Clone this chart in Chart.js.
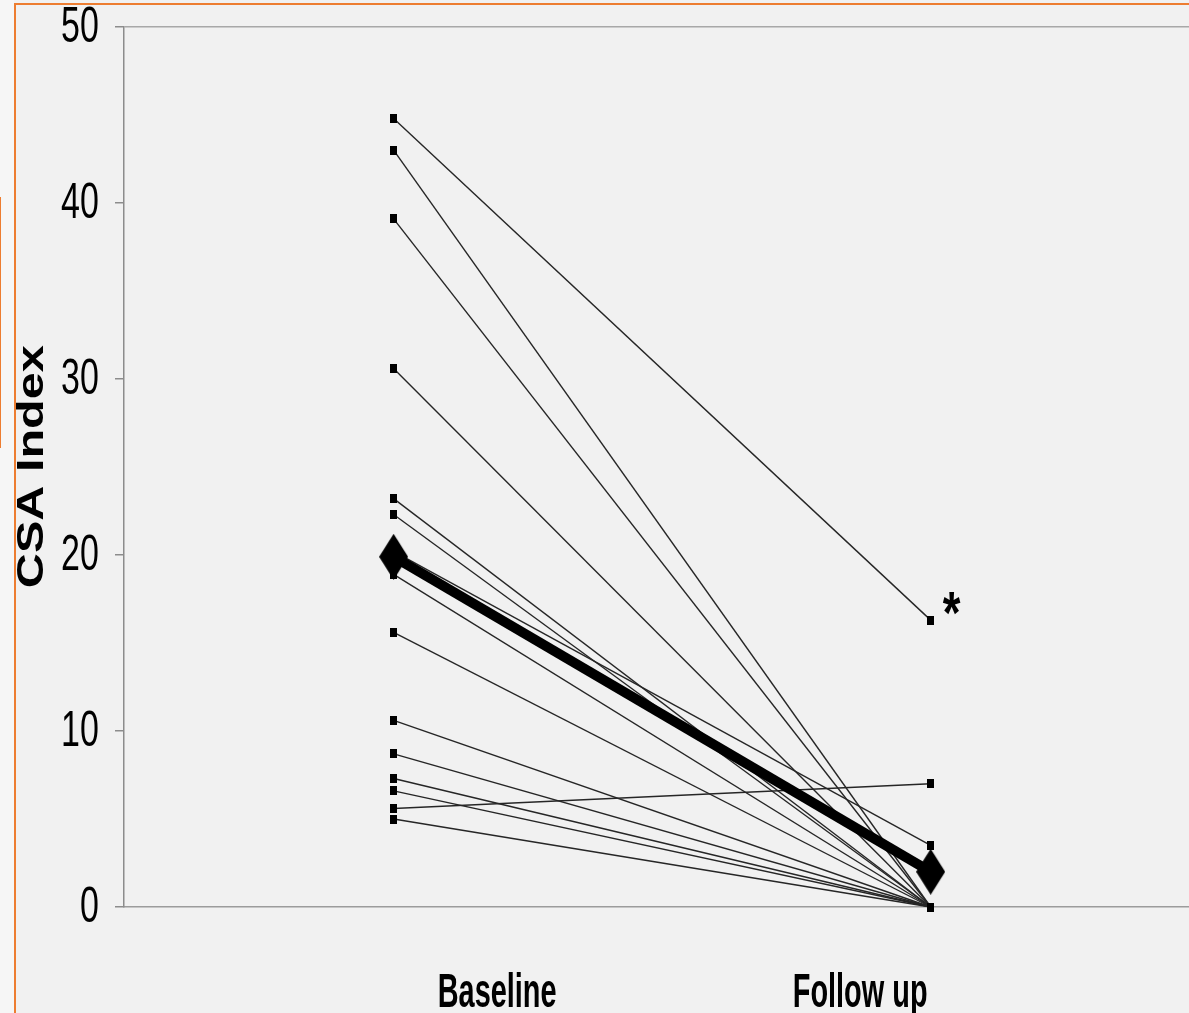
<!DOCTYPE html>
<html>
<head>
<meta charset="utf-8">
<title>CSA Index</title>
<script src="https://cdn.jsdelivr.net/npm/chart.js@4/dist/chart.umd.min.js"></script>
<style>
  html, body { margin: 0; padding: 0; background: #f1f1f1; overflow: hidden; }
  #wrap { position: relative; width: 1189px; height: 1013px; background: #f1f1f1; }
  #wrap canvas { position: absolute; left: 0; top: 0; }
  .edge { position: absolute; background: #ed7d31; }
  #strip { position: absolute; left: 0; top: 0; width: 14px; height: 1013px; background: #f6f6f6; }
</style>
</head>
<body>
<div id="wrap">
  <div id="strip"></div>
  <canvas id="chart"></canvas>
  <div class="edge" style="left:14px; top:3px; width:2px; height:1010px;"></div>
  <div class="edge" style="left:14px; top:3px; width:1175px; height:2px;"></div>
  <div class="edge" style="left:0; top:197px; width:1px; height:251px;"></div>
</div>
<script>
// Time points on the horizontal axis
const categories = ['Baseline', 'Follow up'];

// CSA index of each subject at baseline and at follow up (same order)
const baselineValues = [44.8, 43.0, 39.1, 30.6, 23.2, 22.3, 20.2, 18.9, 15.6, 10.6, 8.7, 7.3, 6.6, 5.6, 5.0];
const followUpValues = [16.3, 0, 0, 0, 0, 0, 3.5, 0, 0, 0, 0, 0, 0, 7.0, 0];

// Group mean at each time point
const meanValues = [19.9, 2.0];

// Value axis ticks
const yTickValues = [0, 10, 20, 30, 40, 50];

// Significance mark placed beside the highest follow-up value
const significanceMark = '*';

// ---- marker images ----
function rectMarker(w, h) {
  const c = document.createElement('canvas');
  c.width = w; c.height = h;
  const g = c.getContext('2d');
  g.fillStyle = '#000';
  g.fillRect(0, 0, w, h);
  return c;
}
function diamondMarker(w, h) {
  const c = document.createElement('canvas');
  c.width = w; c.height = h;
  const g = c.getContext('2d');
  g.fillStyle = '#000';
  g.beginPath();
  g.moveTo(w / 2, 0);
  g.lineTo(w, h / 2);
  g.lineTo(w / 2, h);
  g.lineTo(0, h / 2);
  g.closePath();
  g.fill();
  return c;
}
const subjectMarker = rectMarker(7, 9);
const meanMarker = diamondMarker(29, 46);

// ---- datasets ----
const subjectSets = baselineValues.map((b, i) => ({
  label: 'Subject ' + (i + 1),
  data: [{ x: 0, y: b }, { x: 1, y: followUpValues[i] }],
  borderColor: '#262626',
  borderWidth: 1.4,
  pointStyle: subjectMarker,
  pointRadius: 4,
  pointHoverRadius: 4,
  clip: false,
  order: 1
}));
const meanSet = {
  label: 'Mean',
  data: meanValues.map((v, i) => ({ x: i, y: v })),
  borderColor: '#000',
  borderWidth: 10,
  pointStyle: meanMarker,
  pointRadius: 14,
  pointHoverRadius: 14,
  clip: false,
  order: 0
};

// ---- text drawing with stretched glyphs ----
function drawText(ctx, text, font, sx, sy, px, py, hAlign, vAlign) {
  ctx.save();
  ctx.font = font;
  ctx.textAlign = 'left';
  ctx.textBaseline = 'alphabetic';
  const m = ctx.measureText(text);
  const l = -m.actualBoundingBoxLeft, r = m.actualBoundingBoxRight;
  const t = -m.actualBoundingBoxAscent, b = m.actualBoundingBoxDescent;
  const ox = hAlign === 'right' ? r : (hAlign === 'left' ? l : (l + r) / 2);
  const oy = vAlign === 'baseline' ? 0 : (t + b) / 2;
  ctx.translate(px, py);
  ctx.scale(sx, sy);
  ctx.fillText(text, -ox, -oy);
  ctx.restore();
}
function drawFitted(ctx, text, font, cx, cy, w, h) {
  ctx.save();
  ctx.font = font;
  ctx.textAlign = 'left';
  ctx.textBaseline = 'alphabetic';
  const m = ctx.measureText(text);
  const l = -m.actualBoundingBoxLeft, r = m.actualBoundingBoxRight;
  const t = -m.actualBoundingBoxAscent, b = m.actualBoundingBoxDescent;
  ctx.translate(cx, cy);
  ctx.scale(w / (r - l), h / (b - t));
  ctx.fillText(text, -(l + r) / 2, -(t + b) / 2);
  ctx.restore();
}

const labelShift = [104, -70];

const textPlugin = {
  id: 'axisText',
  afterDraw(chart) {
    const { ctx } = chart;
    const xs = chart.scales.x, ys = chart.scales.y;
    ctx.save();
    ctx.fillStyle = '#000';

    // value tick labels
    ys.ticks.forEach(tk => {
      drawText(ctx, String(tk.value), '34px "Liberation Sans", Arial, sans-serif',
        1.0, 1.45, 98, ys.getPixelForValue(tk.value) - 1.5, 'right', 'middle');
    });

    // category labels
    categories.forEach((c, i) => {
      drawText(ctx, c, 'bold 34px "Liberation Sans", Arial, sans-serif',
        0.85, 1.4, xs.getPixelForValue(i) + labelShift[i], 1007, 'center', 'baseline');
    });

    // axis title
    ctx.save();
    ctx.translate(29, 466);
    ctx.rotate(-Math.PI / 2);
    drawText(ctx, 'CSA Index', 'bold 36px "Liberation Sans", Arial, sans-serif',
      1.35, 1.0, 0, 0, 'center', 'middle');
    ctx.restore();

    // significance mark
    const top = Math.max(...followUpValues);
    drawFitted(ctx, significanceMark, 'bold 48px "Liberation Sans", Arial, sans-serif',
      xs.getPixelForValue(1) + 21, ys.getPixelForValue(top) - 16, 18, 22);

    ctx.restore();
  }
};

new Chart(document.getElementById('chart'), {
  type: 'line',
  data: { datasets: [meanSet, ...subjectSets] },
  options: {
    responsive: true,
    maintainAspectRatio: false,
    animation: false,
    events: [],
    layout: { autoPadding: false, padding: { top: 27, left: 0, right: 0, bottom: 0 } },
    plugins: { legend: { display: false }, tooltip: { enabled: false } },
    scales: {
      x: {
        type: 'linear',
        min: -0.502,
        max: 1.481,
        ticks: { display: false },
        grid: { display: false, drawTicks: false },
        border: { display: true, color: '#9c9c9c', width: 1.5 },
        afterFit(scale) { scale.height = 106; }
      },
      y: {
        type: 'linear',
        min: 0,
        max: 50,
        afterBuildTicks(scale) { scale.ticks = yTickValues.map(v => ({ value: v })); },
        ticks: { display: false },
        grid: {
          drawTicks: true,
          tickLength: 9,
          tickWidth: 1.5,
          tickColor: '#8c8c8c',
          lineWidth: 1.5,
          color: c => (c.tick && c.tick.value === 50) ? '#a8a8a8' : 'rgba(0,0,0,0)'
        },
        border: { display: true, color: '#8c8c8c', width: 1.5 },
        afterFit(scale) { scale.width = 124; }
      }
    }
  },
  plugins: [textPlugin]
});
</script>
</body>
</html>
